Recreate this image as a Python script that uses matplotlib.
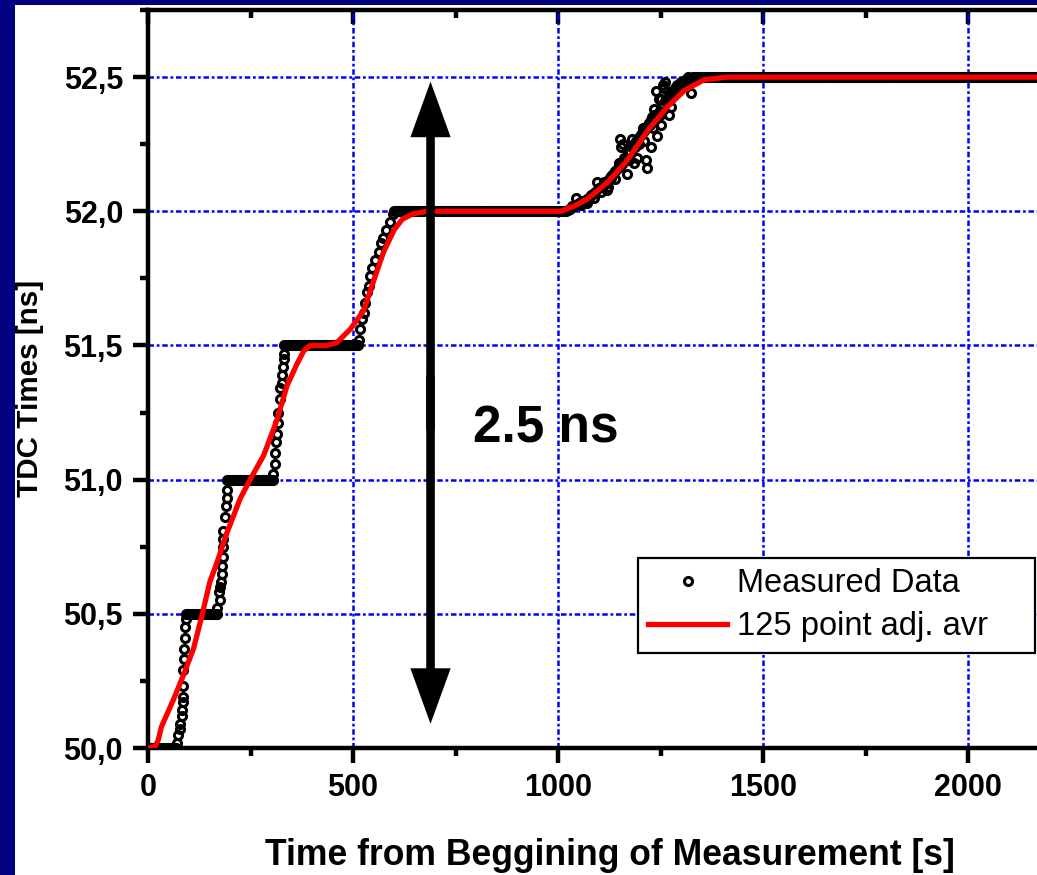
import numpy as np
import matplotlib
matplotlib.use("Agg")
import matplotlib.pyplot as plt
from matplotlib.patches import Rectangle
from matplotlib.ticker import MultipleLocator, FixedLocator, FuncFormatter

# ---------------- data ----------------
# constant plateaus of the measured data: start time, end time, level
PLATEAU_START = [0, 93, 193, 332, 600, 1335]
PLATEAU_END = [70, 172, 305, 515, 1022, 2168]
PLATEAU_LEVEL = [50.0, 50.5, 51.0, 51.5, 52.0, 52.5]
SAMPLE_STEP = 4  # seconds between samples on a plateau

# measured points in the transitions between plateaus
TRANS_T = [70, 74, 78, 78, 82, 82, 86, 85, 86, 86, 88, 88, 90, 90, 93,
           169, 172, 176, 176, 177, 180, 180, 184, 182, 184, 184, 188, 190, 192, 192,
           306, 310, 310, 313, 314, 316, 318, 321, 322, 327, 327, 329, 331, 332,
           514, 518, 522, 526, 530, 534, 538, 542, 546, 554, 563, 567, 574, 581, 591, 598,
           1025, 1030, 1040, 1050, 1055, 1060, 1065, 1075, 1080, 1085, 1090, 1100, 1105,
           1110, 1115, 1125, 1130, 1135, 1140, 1145, 1150, 1155, 1160, 1165, 1170, 1175,
           1180, 1185, 1190, 1195, 1200, 1205, 1210, 1215, 1220, 1225, 1230, 1235, 1240,
           1245, 1250, 1255, 1260, 1265, 1270, 1275, 1280, 1285, 1290, 1295, 1300, 1305,
           1310, 1315, 1320, 1325, 1330,
           1043, 1071, 1096, 1104, 1120, 1128, 1153, 1161, 1169, 1181, 1185, 1206, 1214,
           1218, 1210, 1226, 1242, 1234, 1251, 1259, 1275, 1271, 1283, 1299, 1324, 1316,
           1332, 1291, 1238, 1246, 1255, 1262, 1150, 1158, 1192, 1226, 1251,
           1035, 1058, 1070, 1088, 1112, 1122, 1138, 1148, 1172, 1188, 1198, 1222, 1232,
           1248, 1268, 1278, 1308, 1318]
TRANS_V = [50.02, 50.05, 50.07, 50.09, 50.12, 50.14, 50.17, 50.19, 50.23, 50.29, 50.33, 50.37, 50.41, 50.45, 50.48,
           50.52, 50.58, 50.55, 50.60, 50.62, 50.65, 50.68, 50.71, 50.75, 50.78, 50.81, 50.86, 50.90, 50.93, 50.96,
           51.02, 51.06, 51.10, 51.14, 51.17, 51.21, 51.25, 51.30, 51.34, 51.36, 51.39, 51.42, 51.45, 51.47,
           51.52, 51.56, 51.60, 51.62, 51.66, 51.70, 51.72, 51.76, 51.79, 51.82, 51.85, 51.88, 51.90, 51.93, 51.96, 51.99,
           52.005, 52.01, 52.02, 52.03, 52.025, 52.035, 52.04, 52.05, 52.06, 52.065, 52.07, 52.085, 52.09,
           52.095, 52.10, 52.12, 52.125, 52.14, 52.15, 52.16, 52.17, 52.175, 52.20, 52.20, 52.22, 52.22,
           52.24, 52.25, 52.26, 52.26, 52.28, 52.29, 52.30, 52.31, 52.32, 52.32, 52.35, 52.36, 52.36,
           52.37, 52.39, 52.40, 52.41, 52.42, 52.43, 52.44, 52.45, 52.46, 52.47, 52.47, 52.48, 52.48,
           52.49, 52.49, 52.495, 52.495, 52.50,
           52.05, 52.045, 52.11, 52.07, 52.08, 52.13, 52.24, 52.19, 52.14, 52.27, 52.18, 52.31, 52.19,
           52.16, 52.26, 52.34, 52.28, 52.38, 52.42, 52.46, 52.39, 52.36, 52.44, 52.48, 52.44, 52.50,
           52.50, 52.46, 52.45, 52.42, 52.47, 52.48, 52.27, 52.25, 52.20, 52.24, 52.32,
           52.02, 52.04, 52.03, 52.05, 52.11, 52.09, 52.12, 52.18, 52.19, 52.24, 52.25, 52.33, 52.31,
           52.36, 52.41, 52.43, 52.47, 52.48]

# 125 point adjacent average (red curve)
AVG_T = [0, 17, 25, 33, 62, 86, 111, 131, 151, 168, 192, 225, 249, 282, 314, 339, 363,
         380, 395, 436, 460, 493, 526, 559, 575, 600, 620, 645, 680, 1006, 1040, 1071,
         1120, 1169, 1218, 1267, 1308, 1356, 1413, 2168]
AVG_V = [50.0, 50.005, 50.03, 50.08, 50.18, 50.27, 50.37, 50.49, 50.62, 50.69, 50.80, 50.93,
         51.0, 51.09, 51.22, 51.35, 51.43, 51.48, 51.50, 51.50, 51.51, 51.56, 51.63, 51.78,
         51.85, 51.93, 51.97, 51.99, 52.0, 52.0, 52.02, 52.045, 52.107, 52.19, 52.30, 52.39,
         52.45, 52.49, 52.50, 52.50]

X_TICKS = [0, 500, 1000, 1500, 2000]
Y_TICKS = [50.0, 50.5, 51.0, 51.5, 52.0, 52.5]
X_LABEL = "Time from Beggining of Measurement [s]"
Y_LABEL = "TDC Times [ns]"
LEGEND_LABELS = ["Measured Data", "125 point adj. avr"]
ANNOT_TEXT = "2.5 ns"

# ---------------- build measured series ----------------
meas_t, meas_v = [], []
for t0, t1, lev in zip(PLATEAU_START, PLATEAU_END, PLATEAU_LEVEL):
    ts = np.arange(t0, t1 + 1, SAMPLE_STEP)
    meas_t.extend(ts.tolist())
    meas_v.extend([lev] * len(ts))
meas_t.extend(TRANS_T)
meas_v.extend(TRANS_V)

# ---------------- figure ----------------
plt.rcParams['font.family'] = ['Liberation Sans', 'DejaVu Sans']
plt.rcParams['font.weight'] = 'bold'

W, H = 1037, 875
fig = plt.figure(figsize=(W / 100, H / 100), dpi=100)
fig.patch.set_facecolor('white')

ax = fig.add_axes([148 / W, 1 - 748 / H, (W - 148) / W, (748 - 10) / H])
ax.set_xlim(0, 2168)
ax.set_ylim(50.0, 52.75)

ax.set_axisbelow(True)
ax.grid(which='major', color='#0000ff', linewidth=1.8,
        linestyle=(0, (2.2, 1.1, 1.1, 1.1)))

ax.plot(meas_t, meas_v, linestyle='none', marker='o', ms=5.8, mfc='none',
        mec='black', mew=2.2, label=LEGEND_LABELS[0], zorder=3)
ax.plot(AVG_T, AVG_V, color='red', lw=3.8, label=LEGEND_LABELS[1], zorder=4)

# ticks
ax.xaxis.set_major_locator(FixedLocator(X_TICKS))
ax.xaxis.set_minor_locator(MultipleLocator(250))
ax.yaxis.set_major_locator(FixedLocator(Y_TICKS))
ax.yaxis.set_minor_locator(MultipleLocator(0.25))
ax.yaxis.set_major_formatter(FuncFormatter(lambda v, p: f"{v:.1f}".replace('.', ',')))
ax.xaxis.set_major_formatter(FuncFormatter(lambda v, p: f"{int(round(v))}"))
ax.tick_params(which='major', direction='out', length=11, width=3.2, labelsize=22)
ax.tick_params(which='minor', direction='out', length=6, width=3.2)
ax.tick_params(axis='y', pad=7)
ax.tick_params(axis='x', pad=7)
ax.tick_params(top=False, right=False, which='both')

for s in ['left', 'bottom', 'top']:
    ax.spines[s].set_linewidth(3.2)
ax.spines['right'].set_visible(False)
ax.spines['top'].set_visible(False)

sec = ax.secondary_xaxis('top')
sec.xaxis.set_major_locator(FixedLocator(X_TICKS))
sec.xaxis.set_minor_locator(MultipleLocator(250))
sec.tick_params(which='major', direction='in', length=10, width=3.2, labeltop=False)
sec.tick_params(which='minor', direction='in', length=6, width=3.2)
sec.spines['top'].set_linewidth(3.2)

# double arrow (two single-headed halves that overlap in the middle)
arrow_x = 689
y_lo, y_hi = 50.09, 52.483
y_mid = (y_lo + y_hi) / 2
for tip, start in ((y_hi, y_mid - 0.1), (y_lo, y_mid + 0.1)):
    ax.annotate('', xy=(arrow_x, tip), xytext=(arrow_x, start),
                arrowprops=dict(arrowstyle='simple, head_length=40, head_width=29, tail_width=6.2',
                                mutation_scale=1, color='black', lw=0,
                                shrinkA=0, shrinkB=0), zorder=5)

ax.text(793, 51.14, ANNOT_TEXT, fontsize=37, fontweight='bold', ha='left',
        va='baseline', zorder=6)

# legend
leg = ax.legend(loc='upper left',
                bbox_to_anchor=(638 / W, 1 - 653 / H, (1035 - 638) / W, (653 - 558) / H),
                bbox_transform=fig.transFigure, borderaxespad=0, mode='expand',
                prop={'weight': 'normal', 'size': 23.5}, numpoints=1,
                fancybox=False, framealpha=1, edgecolor='black',
                handlelength=2.4, handletextpad=0.3, borderpad=0.32,
                labelspacing=0.36)
leg.get_frame().set_linewidth(1.6)
leg.set_zorder(7)

# axis labels
fig.text(610 / W, 1 - 865 / H, X_LABEL, fontsize=25.6, fontweight='bold',
         ha='center', va='baseline')
fig.text(38 / W, 1 - 388 / H, Y_LABEL, fontsize=21.3, fontweight='bold',
         rotation=90, rotation_mode='anchor', ha='center', va='baseline')

# navy frame pieces
fig.add_artist(Rectangle((0, 0), 15 / W, 1, transform=fig.transFigure,
                         facecolor='#000080', edgecolor='none', zorder=20))
fig.add_artist(Rectangle((0, 1 - 5 / H), 1, 5 / H, transform=fig.transFigure,
                         facecolor='#000080', edgecolor='none', zorder=20))

fig.savefig('out.png', dpi=100)
